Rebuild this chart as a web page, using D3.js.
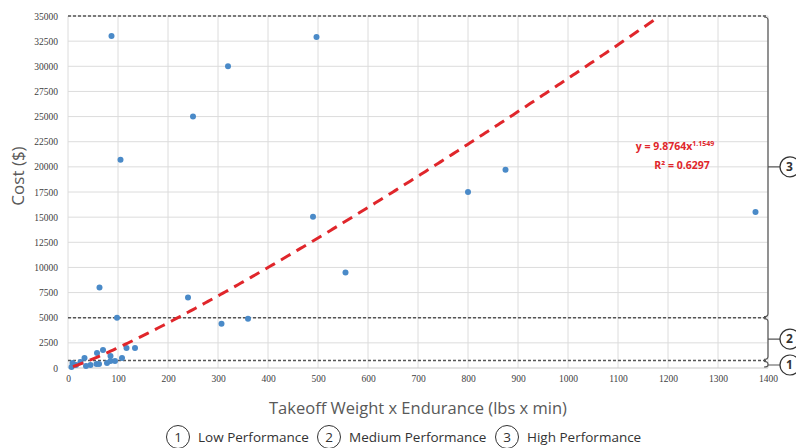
<!DOCTYPE html>
<html>
<head>
<meta charset="utf-8">
<script src="https://cdn.jsdelivr.net/npm/d3@7"></script>
<style>
  body { margin: 0; background: #fff; }
  .lbl { font-family: "Open Sans", "Noto Sans", sans-serif; fill: #595959; }
  .leg { font-family: "Open Sans", "Noto Sans", sans-serif; fill: #333; }
  .eq { font-family: "Open Sans", "Noto Sans", sans-serif; fill: #e0262b; font-weight: bold; }
</style>
</head>
<body>
<div id="chart"></div>
<script>
// Data points: takeoff weight x endurance vs cost
let xVals = [87, 320, 250, 105, 497, 800, 875, 1375, 490, 555, 63, 240, 98, 307, 360,
  117, 134, 70, 58, 33, 85, 108, 85, 57, 62, 78, 36, 16, 9, 94, 7, 45, 25],
  yVals = [33000, 30000, 25000, 20700, 32900, 17500, 19700, 15500, 15050, 9500, 8000, 7000, 5000, 4400, 4900,
  2000, 2000, 1800, 1500, 1000, 1200, 1000, 700, 400, 400, 500, 200, 300, 500, 700, 100, 300, 600],
  xTicks = d3.range(0, 1401, 100),
  yTicks = d3.range(0, 35001, 2500),
  // Performance class thresholds (dashed lines)
  thresholds = [750, 5000, 35000],
  classes = ['Low Performance', 'Medium Performance', 'High Performance'],
  // Power trendline y = a * x^b
  fitA = 9.8764, fitB = 1.1549;

let w = 796, h = 448,
  m = { l: 68, r: 28, t: 16, b: 80 },
  x = d3.scaleLinear().domain([0, 1400]).range([m.l, w - m.r]),
  y = d3.scaleLinear().domain([0, 35000]).range([h - m.b, m.t]),
  svg = d3.select('#chart').append('svg').attr('width', w).attr('height', h);

// Gridlines
svg.append('g').selectAll('line').data(xTicks).enter().append('line')
  .attr('x1', d => x(d)).attr('x2', d => x(d))
  .attr('y1', y(0)).attr('y2', y(35000))
  .attr('stroke', '#dcdcdc').attr('stroke-width', 1);
svg.append('g').selectAll('line').data(yTicks).enter().append('line')
  .attr('x1', x(0)).attr('x2', x(1400))
  .attr('y1', d => y(d)).attr('y2', d => y(d))
  .attr('stroke', d => d === 0 ? '#c8c8c8' : '#dcdcdc').attr('stroke-width', 1);

// Axes (labels only)
let xAxis = svg.append('g').attr('transform', `translate(0,${y(0) + 4})`)
  .call(d3.axisBottom(x).tickValues(xTicks).tickSize(0).tickFormat(d3.format('d')));
let yAxis = svg.append('g').attr('transform', `translate(${x(0) - 7},0)`)
  .call(d3.axisLeft(y).tickValues(yTicks).tickSize(0).tickFormat(d3.format('d')));
[xAxis, yAxis].forEach(a => {
  a.select('.domain').remove();
  a.attr('font-family', null);
  a.selectAll('text').style('font-family', '"Liberation Serif", "DejaVu Serif", serif')
    .style('font-size', '9.5px').attr('fill', '#404040');
});

// Threshold dashed lines
svg.append('g').selectAll('line').data(thresholds).enter().append('line')
  .attr('x1', x(0)).attr('x2', x(1400))
  .attr('y1', d => y(d)).attr('y2', d => y(d))
  .attr('stroke', '#555').attr('stroke-width', 1.5).attr('stroke-dasharray', '3,2');

// Points
svg.append('g').selectAll('circle').data(xVals).enter().append('circle')
  .attr('cx', d => x(d)).attr('cy', (d, i) => y(yVals[i]))
  .attr('r', 3).attr('fill', '#4a8ac8');

// Trendline
let fitX = d3.range(10, 1185, 5);
svg.append('path').datum(fitX)
  .attr('d', d3.line().x(d => x(d)).y(d => y(fitA * Math.pow(d, fitB))))
  .attr('fill', 'none').attr('stroke', '#e0262b').attr('stroke-width', 3)
  .attr('stroke-dasharray', '11,7');

// Equation
let eq = svg.append('text').attr('class', 'eq').attr('x', 675).attr('y', 150)
  .attr('text-anchor', 'middle').attr('font-size', 10.5);
eq.append('tspan').text('y = 9.8764x');
eq.append('tspan').attr('dy', -4).attr('font-size', 7).text('1.1549');
svg.append('text').attr('class', 'eq').attr('x', 682).attr('y', 169)
  .attr('text-anchor', 'middle').attr('font-size', 10.5).text('R² = 0.6297');

// Brackets at right side with numbered circles
let bands = [[0, thresholds[0]], [thresholds[0], thresholds[1]], [thresholds[1], thresholds[2]]],
  bx = x(1400),
  midY = (d, i) => i === 0 ? 365 : (y(d[0]) + y(d[1])) / 2;
let br = svg.append('g').selectAll('g').data(bands).enter().append('g');
br.append('path')
  .attr('d', (d, i) => {
    let t = y(d[1]) + 1, b = y(d[0]) - 1, mid = midY(d, i);
    return `M${bx - 4},${t} Q${bx},${t} ${bx},${Math.min(t + 3, mid)} L${bx},${Math.max(b - 3, mid)} Q${bx},${b} ${bx - 4},${b}` +
      `M${bx},${mid} L${bx + 12},${mid}`;
  })
  .attr('fill', 'none').attr('stroke', '#555').attr('stroke-width', 1.2);
br.append('circle')
  .attr('cx', bx + 22).attr('cy', midY)
  .attr('r', 10).attr('fill', '#fff').attr('stroke', '#333').attr('stroke-width', 1.2);
br.append('text')
  .attr('x', bx + 18).attr('y', (d, i) => midY(d, i) + 4)
  .attr('class', 'leg').attr('font-size', 12).attr('font-weight', 'bold').text((d, i) => i + 1);

// Axis titles
svg.append('text').attr('class', 'lbl').attr('font-size', 17)
  .attr('transform', 'translate(24,176) rotate(-90)').attr('text-anchor', 'middle').text('Cost ($)');
svg.append('text').attr('class', 'lbl').attr('font-size', 16.5)
  .attr('x', 418).attr('y', 414).attr('text-anchor', 'middle')
  .text('Takeoff Weight x Endurance (lbs x min)');

// Legend
let legX = [178, 329, 507];
let leg = svg.append('g').selectAll('g').data(classes).enter().append('g')
  .attr('transform', (d, i) => `translate(${legX[i]},437)`);
leg.append('circle').attr('r', 11.5).attr('fill', 'none').attr('stroke', '#333').attr('stroke-width', 1);
leg.append('text').attr('class', 'leg').attr('font-size', 13.5).attr('text-anchor', 'middle')
  .attr('y', 5).text((d, i) => i + 1);
leg.append('text').attr('class', 'leg').attr('font-size', 13.5).attr('x', 20).attr('y', 5).text(d => d);
</script>
</body>
</html>
